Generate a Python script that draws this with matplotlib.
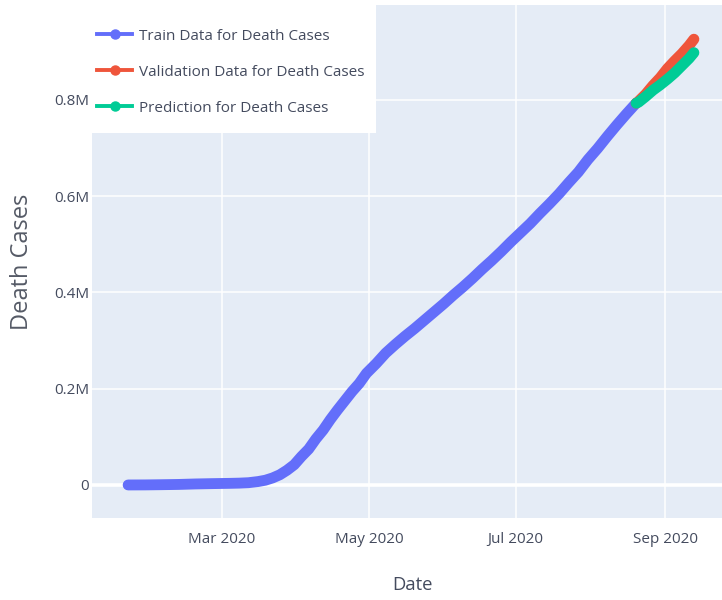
import matplotlib
matplotlib.use("Agg")
import matplotlib.pyplot as plt
import matplotlib.dates as mdates
from matplotlib.lines import Line2D
from matplotlib.patches import Rectangle
import pandas as pd

# ---------------- data ----------------
train_dates = ["2020-01-22", "2020-01-29", "2020-02-05", "2020-02-12", "2020-02-19",
               "2020-02-26", "2020-03-04", "2020-03-08", "2020-03-12", "2020-03-16",
               "2020-03-19", "2020-03-22", "2020-03-25", "2020-03-28", "2020-03-31",
               "2020-04-03", "2020-04-06", "2020-04-09", "2020-04-12", "2020-04-15",
               "2020-04-18", "2020-04-21", "2020-04-24", "2020-04-27", "2020-04-30",
               "2020-05-04", "2020-05-08", "2020-05-12", "2020-05-16", "2020-05-20",
               "2020-05-24", "2020-05-28", "2020-06-01", "2020-06-05", "2020-06-09",
               "2020-06-13", "2020-06-17", "2020-06-21", "2020-06-25", "2020-06-29",
               "2020-07-03", "2020-07-07", "2020-07-11", "2020-07-15", "2020-07-19",
               "2020-07-23", "2020-07-27", "2020-07-31", "2020-08-04", "2020-08-08",
               "2020-08-12", "2020-08-16", "2020-08-20"]
train_deaths = [17, 133, 565, 1118, 2122,
                2801, 3348, 3802, 4720, 7126,
                9867, 14601, 21181, 30652, 42107,
                59172, 74565, 95735, 114090, 136000,
                156000, 175000, 194000, 211000, 232000,
                252000, 274000, 292000, 309000, 325000,
                342000, 359000, 376000, 394000, 411000,
                429000, 448000, 466000, 485000, 505000,
                524000, 543000, 564000, 584000, 605000,
                628000, 650000, 676000, 699000, 724000,
                748000, 771000, 793000]

valid_dates = ["2020-08-20", "2020-08-21", "2020-08-24", "2020-08-27", "2020-08-30",
               "2020-09-02", "2020-09-05", "2020-09-08", "2020-09-11", "2020-09-13"]
valid_deaths = [793000, 797000, 812000, 830000, 846000,
                865000, 881000, 896000, 913000, 926000]

pred_dates = ["2020-08-20", "2020-08-21", "2020-08-24", "2020-08-27", "2020-08-30",
              "2020-09-02", "2020-09-05", "2020-09-08", "2020-09-11", "2020-09-13"]
pred_deaths = [793000, 795000, 807000, 820000, 831000,
               843000, 856000, 871000, 886000, 898000]

series_names = ["Train Data for Death Cases",
                "Validation Data for Death Cases",
                "Prediction for Death Cases"]

xtick_dates = ["2020-03-01", "2020-05-01", "2020-07-01", "2020-09-01"]
ytick_values = [0, 200000, 400000, 600000, 800000]
ytick_labels = ["0", "0.2M", "0.4M", "0.6M", "0.8M"]

# ---------------- style ----------------
C_TRAIN = "#636EFA"
C_VALID = "#EF553B"
C_PRED = "#00CC96"
BG = "#E5ECF6"
TXT = "#444b5e"
FONT = ["Open Sans", "DejaVu Sans"]

W, H = 722, 600
fig = plt.figure(figsize=(W / 100, H / 100), dpi=100)
L, R, T, B = 92, 722, 5, 518
ax = fig.add_axes([L / W, 1 - B / H, (R - L) / W, (B - T) / H])
ax.set_facecolor(BG)
for s in ax.spines.values():
    s.set_visible(False)

td = pd.to_datetime(train_dates)
vd = pd.to_datetime(valid_dates)
pdd = pd.to_datetime(pred_dates)

lw = 7.8
kw = dict(lw=lw, solid_capstyle="round", solid_joinstyle="round")
ax.plot(td, train_deaths, color=C_TRAIN, zorder=3, **kw)
ax.plot(vd, valid_deaths, color=C_VALID, zorder=4, **kw)
ax.plot(pdd, pred_deaths, color=C_PRED, zorder=5, **kw)

ax.set_xlim(pd.Timestamp("2020-01-07"), pd.Timestamp("2020-09-24 16:00"))
ax.set_ylim(-68600, 997000)

ax.set_xticks(pd.to_datetime(xtick_dates))
ax.xaxis.set_major_formatter(mdates.DateFormatter("%b %Y"))
ax.set_yticks(ytick_values)
ax.set_yticklabels(ytick_labels)
ax.grid(True, color="white", lw=1.1, zorder=0)
ax.set_axisbelow(True)
ax.axhline(0, color="white", lw=2.6, zorder=1)
ax.tick_params(axis="both", length=0, colors=TXT, labelsize=11)
ax.tick_params(axis="x", pad=10)
ax.tick_params(axis="y", pad=2)
for lab in ax.get_xticklabels() + ax.get_yticklabels():
    lab.set_family(FONT)

fig.text(412 / W, 1 - 585 / H, "Date", ha="center", va="center",
         fontsize=13.3, color=TXT, family=FONT)
fig.text(22 / W, 1 - 262 / H, "Death Cases", rotation=90, ha="center", va="center",
         fontsize=17, color="#555a66", family=FONT)

# legend background box (plotly-like, white, overlapping plot)
fig.add_artist(Rectangle((L / W, 1 - 133 / H), (376 - L) / W, 133 / H,
                         transform=fig.transFigure, facecolor="white",
                         edgecolor="none", zorder=4))

handles = [Line2D([], [], color=c, lw=2.8, marker="o", markersize=6.5)
           for c in (C_TRAIN, C_VALID, C_PRED)]
leg = fig.legend(handles, series_names, loc="upper left",
                 bbox_to_anchor=(L / W, 1 - 24 / H), borderaxespad=0.0,
                 frameon=False, handlelength=2.35, handletextpad=0.45,
                 labelspacing=1.38, borderpad=0.3,
                 prop={"family": FONT, "size": 11})
leg.set_zorder(5)
for t in leg.get_texts():
    t.set_color(TXT)

fig.savefig("out.png", dpi=100, facecolor="white")
